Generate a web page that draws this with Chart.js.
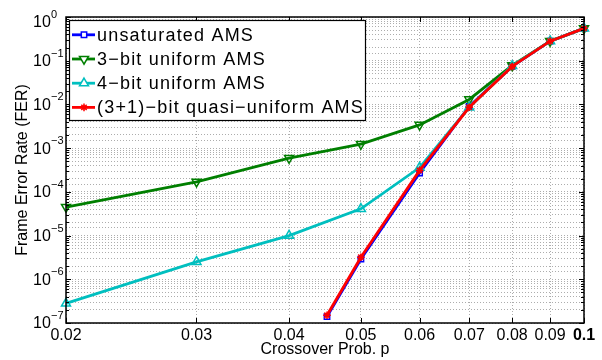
<!DOCTYPE html>
<html>
<head>
<meta charset="utf-8">
<script src="https://cdn.jsdelivr.net/npm/chart.js@4/dist/chart.umd.min.js"></script>
<style>
  html, body { margin: 0; padding: 0; background: #ffffff; }
  #wrap { width: 602px; height: 360px; position: relative; }
</style>
</head>
<body>
<div id="wrap"><canvas id="c" width="602" height="360"></canvas></div>
<script>
// ---- data ----
const pFull = [0.02, 0.03, 0.04, 0.05, 0.06, 0.07, 0.08, 0.09, 0.1];
const pShort = [0.045, 0.05, 0.06, 0.07, 0.08, 0.09, 0.1];

const ferUnsat = [1.4e-7, 2.9e-6, 2.7e-4, 9.0e-3, 7.4e-2, 2.8e-1, 5.5e-1];
const fer3bit  = [4.5e-5, 1.7e-4, 5.9e-4, 1.24e-3, 3.4e-3, 1.3e-2, 7.8e-2, 2.8e-1, 5.5e-1];
const fer4bit  = [2.8e-7, 2.5e-6, 1.0e-5, 4.1e-5, 3.6e-4, 8.6e-3, 7.6e-2, 2.8e-1, 5.5e-1];
const ferQuasi = [1.5e-7, 3.2e-6, 3.1e-4, 8.6e-3, 7.4e-2, 2.8e-1, 5.5e-1];

const seriesNames = ['unsaturated AMS', '3\u2212bit uniform AMS', '4\u2212bit uniform AMS', '(3+1)\u2212bit quasi\u2212uniform AMS'];
const xTickValues = [0.02, 0.03, 0.04, 0.05, 0.06, 0.07, 0.08, 0.09, 0.1];
const xTickLabels = ['0.02', '0.03', '0.04', '0.05', '0.06', '0.07', '0.08', '0.09', '0.1'];
const yExponents = [0, -1, -2, -3, -4, -5, -6, -7];
const xTitle = 'Crossover Prob. p';
const yTitle = 'Frame Error Rate (FER)';

const FONT = '"Liberation Sans", Arial, Helvetica, sans-serif';
const colors = ['#0000ff', '#007f00', '#00bfbf', '#ff0000'];

function pts(xs, ys) { return xs.map((x, i) => ({ x: x, y: ys[i] })); }

const markerDefs = [
  { style: 'rect', rot: 0, r: 3.8, bg: 'rgba(0,0,0,0)' },
  { style: 'triangle', rot: 180, r: 5.2, bg: 'rgba(0,0,0,0)' },
  { style: 'triangle', rot: 0, r: 5.2, bg: 'rgba(0,0,0,0)' },
  { style: 'star', rot: 0, r: 3.8, bg: 'rgba(0,0,0,0)' }
];

const datasets = [
  { label: seriesNames[0], data: pts(pShort, ferUnsat), order: 3 },
  { label: seriesNames[1], data: pts(pFull, fer3bit), order: 2 },
  { label: seriesNames[2], data: pts(pFull, fer4bit), order: 1 },
  { label: seriesNames[3], data: pts(pShort, ferQuasi), order: 0 }
].map((d, i) => Object.assign(d, {
  borderColor: colors[i],
  backgroundColor: colors[i],
  borderWidth: 2.8,
  pointStyle: markerDefs[i].style,
  pointRotation: markerDefs[i].rot,
  pointRadius: markerDefs[i].r,
  pointBorderWidth: 1.5,
  pointBorderColor: colors[i],
  pointBackgroundColor: markerDefs[i].bg,
  tension: 0,
  fill: false,
  clip: false
}));

const framePlugin = {
  id: 'frame',
  afterDraw(chart) {
    const ctx = chart.ctx;
    const a = chart.chartArea;
    const xs = chart.scales.x, ys = chart.scales.y;
    ctx.save();
    // box
    ctx.strokeStyle = '#000';
    ctx.lineWidth = 1.5;
    ctx.strokeRect(a.left, a.top, a.right - a.left, a.bottom - a.top);
    // inward ticks
    ctx.lineWidth = 1;
    ctx.beginPath();
    xTickValues.forEach(v => {
      const px = Math.round(xs.getPixelForValue(v)) + 0.5;
      ctx.moveTo(px, a.bottom); ctx.lineTo(px, a.bottom - 5);
      ctx.moveTo(px, a.top); ctx.lineTo(px, a.top + 5);
    });
    for (let e = -7; e <= 0; e++) {
      for (let m = 1; m <= 9; m++) {
        const v = m * Math.pow(10, e);
        if (v > 1.0000001) break;
        const py = Math.round(ys.getPixelForValue(v)) + 0.5;
        const len = m === 1 ? 5 : 3;
        ctx.moveTo(a.left, py); ctx.lineTo(a.left + len, py);
        ctx.moveTo(a.right, py); ctx.lineTo(a.right - len, py);
      }
    }
    ctx.stroke();

    // y tick labels 10^n
    ctx.fillStyle = '#000';
    yExponents.forEach(e => {
      const py = ys.getPixelForValue(Math.pow(10, e));
      const cy = Math.max(py + 1, 23);
      ctx.font = '16px ' + FONT;
      ctx.textAlign = 'left';
      ctx.textBaseline = 'middle';
      ctx.fillText('10', 33, cy);
      ctx.font = '11px ' + FONT;
      ctx.fillText(e === 0 ? '0' : '\u2212' + Math.abs(e), 51, cy - 8);
    });

    // legend
    const lx = 69.5, ly = 20.5, lw = 296, lh = 100;
    ctx.fillStyle = '#fff';
    ctx.fillRect(lx, ly, lw, lh);
    ctx.strokeStyle = '#000';
    ctx.lineWidth = 1.2;
    ctx.strokeRect(lx, ly, lw, lh);
    chart.data.datasets.forEach((ds, i) => {
      const y = 34.8 + i * 24.2;
      ctx.strokeStyle = ds.borderColor;
      ctx.lineWidth = ds.borderWidth;
      ctx.beginPath();
      ctx.moveTo(72, y); ctx.lineTo(95, y);
      ctx.stroke();
      const opt = {
        pointStyle: ds.pointStyle, rotation: ds.pointRotation, radius: ds.pointRadius,
        borderWidth: ds.pointBorderWidth
      };
      ctx.strokeStyle = ds.pointBorderColor;
      ctx.fillStyle = '#fff';
      ctx.lineWidth = ds.pointBorderWidth;
      Chart.helpers.drawPoint(ctx, opt, 84, y);
      ctx.fillStyle = '#000';
      ctx.font = '18px ' + FONT;
      try { ctx.letterSpacing = '1.2px'; } catch (err) {}
      ctx.textAlign = 'left';
      ctx.textBaseline = 'middle';
      ctx.fillText(ds.label, 97, y + 1);
      try { ctx.letterSpacing = '0px'; } catch (err) {}
    });
    ctx.restore();
  }
};

new Chart(document.getElementById('c'), {
  type: 'line',
  data: { datasets: datasets },
  options: {
    responsive: false,
    animation: false,
    devicePixelRatio: 1,
    layout: { padding: { left: 0, right: 18, top: 17, bottom: 0 } },
    plugins: { legend: { display: false }, tooltip: { enabled: false } },
    scales: {
      x: {
        type: 'logarithmic',
        min: 0.02, max: 0.1,
        afterBuildTicks(scale) { scale.ticks = xTickValues.map(v => ({ value: v })); },
        afterFit(scale) { scale.height = 37; },
        ticks: {
          autoSkip: false,
          maxRotation: 0,
          padding: 3,
          color: '#000',
          font: (c) => ({ family: FONT, size: 16, weight: c.index === xTickValues.length - 1 ? 'bold' : 'normal' }),
          callback: (v, i) => xTickLabels[i]
        },
        grid: { color: 'rgba(0,0,0,0.32)', lineWidth: 1, drawTicks: false },
        border: { display: false, dash: [1, 2] },
        title: { display: true, text: xTitle, color: '#000', font: { family: FONT, size: 16 }, padding: { top: 0, bottom: 1 } }
      },
      y: {
        type: 'logarithmic',
        min: 1e-7, max: 1,
        afterFit(scale) { scale.width = 66; },
        ticks: { display: false, autoSkip: false },
        grid: { color: 'rgba(0,0,0,0.32)', lineWidth: 1, drawTicks: false },
        border: { display: false, dash: [1, 2] },
        title: { display: true, text: yTitle, color: '#000', font: { family: FONT, size: 16 }, padding: { top: 13, bottom: 0 } }
      }
    }
  },
  plugins: [framePlugin]
});
</script>
</body>
</html>
